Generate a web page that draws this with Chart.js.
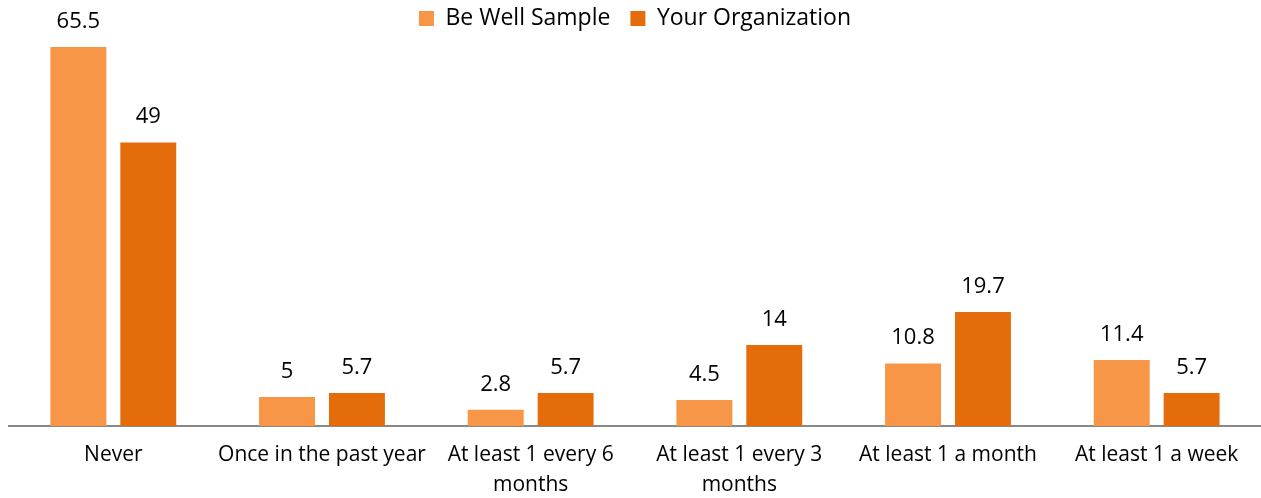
<!DOCTYPE html>
<html>
<head>
<meta charset="utf-8">
<script src="https://cdn.jsdelivr.net/npm/chart.js@4/dist/chart.umd.min.js"></script>
<style>
  html, body { margin: 0; padding: 0; background: #fff; }
  #wrap { width: 1261px; height: 498px; }
</style>
</head>
<body>
<div id="wrap"><canvas id="chart"></canvas></div>
<script>
const categories = [
  'Never',
  'Once in the past year',
  ['At least 1 every 6', 'months'],
  ['At least 1 every 3', 'months'],
  'At least 1 a month',
  'At least 1 a week'
];
const beWellSample = [65.5, 5, 2.8, 4.5, 10.8, 11.4];
const yourOrganization = [49, 5.7, 5.7, 14, 19.7, 5.7];

const FONT = '"Open Sans", sans-serif';

// writes each bar's value just above it
const valueLabels = {
  id: 'valueLabels',
  afterDatasetsDraw(chart) {
    const ctx = chart.ctx;
    ctx.save();
    ctx.font = '22px ' + FONT;
    ctx.fillStyle = '#000';
    ctx.textAlign = 'center';
    ctx.textBaseline = 'alphabetic';
    chart.data.datasets.forEach((ds, i) => {
      chart.getDatasetMeta(i).data.forEach((bar, j) => {
        ctx.fillText(String(ds.data[j]), bar.x, bar.y - 19);
      });
    });
    ctx.restore();
  }
};

new Chart(document.getElementById('chart'), {
  type: 'bar',
  data: {
    labels: categories,
    datasets: [
      { label: 'Be Well Sample', data: beWellSample, backgroundColor: '#F79646' },
      { label: 'Your Organization', data: yourOrganization, backgroundColor: '#E46C0A' }
    ]
  },
  options: {
    responsive: true,
    maintainAspectRatio: false,
    animation: false,
    categoryPercentage: 0.67,
    barPercentage: 0.8,
    layout: { padding: { left: 9, right: 0, top: -13, bottom: -16 } },
    plugins: {
      legend: {
        position: 'top',
        labels: {
          font: { family: FONT, size: 23 },
          color: '#000',
          boxWidth: 15,
          boxHeight: 15,
          padding: 20
        }
      },
      tooltip: { enabled: false }
    },
    scales: {
      x: {
        grid: { display: false, drawTicks: false },
        border: { display: true, color: '#888', width: 2 },
        ticks: {
          color: '#000',
          font: { family: FONT, size: 21, lineHeight: 1.43 },
          padding: 14,
          maxRotation: 0,
          autoSkip: false
        }
      },
      y: {
        display: false,
        min: 0,
        max: 66.7
      }
    }
  },
  plugins: [valueLabels]
});
</script>
</body>
</html>
